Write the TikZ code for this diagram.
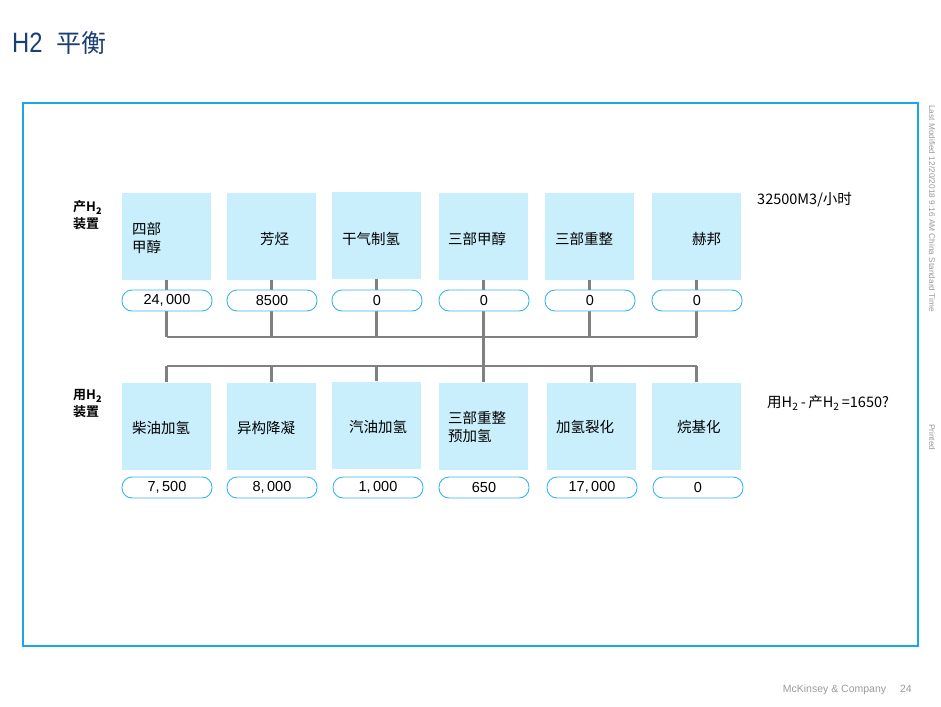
\documentclass[tikz,border=0pt]{standalone}
\usepackage{fontspec}
\setmainfont{Liberation Sans}
\newfontfamily\cjk{Noto Sans CJK SC}
\newfontfamily\cjkb{Noto Sans CJK SC Bold}
\definecolor{frameblue}{HTML}{1AA7E8}
\definecolor{boxfill}{HTML}{C9EFFD}
\definecolor{pillline}{HTML}{35B5EE}
\definecolor{linegray}{HTML}{808080}
\definecolor{titleblue}{HTML}{1C3F73}
\definecolor{notegray}{HTML}{9A9A9A}
\begin{document}
\begin{tikzpicture}[x=1pt,y=-1pt,
  box/.style={draw=none,fill=boxfill,minimum width=89pt,minimum height=87pt,inner sep=0pt},
  pill/.style={draw=pillline,line width=0.9pt,fill=white,rounded corners=10pt,minimum width=90pt,minimum height=21pt,inner sep=0pt,font=\fontsize{14.5}{14}\selectfont},
  boxtext/.style={anchor=west,inner sep=0pt,align=left,font=\cjk\fontsize{14.5}{18}\selectfont},
  side/.style={anchor=west,inner sep=0pt,align=left,font=\cjkb\fontsize{13}{17}\selectfont},
  conn/.style={draw=linegray,line width=2.6pt}]
\useasboundingbox (0,0) rectangle (941,706);
% title
\node[anchor=west,inner sep=0pt,text=titleblue] (title) at (12,43) {\scalebox{0.85}[1]{\fontsize{28}{28}\selectfont H2}\hspace{14pt}{\cjk\fontsize{25}{25}\selectfont 平衡}};
% frame
\draw[frameblue,line width=2pt] (23,103) rectangle (918,646);
% side labels
\node[side] (lblP) at (73,215) {产H\textsubscript{\textbf{2}}\\装置};
\node[side] (lblU) at (73,404) {用H\textsubscript{\textbf{2}}\\装置};
% top boxes
\node[box] (tb1) at (166.5,236.5) {};
\node[box] (tb2) at (271.5,236.5) {};
\node[box] (tb3) at (376.5,235.5) {};
\node[box] (tb4) at (483.5,236.5) {};
\node[box] (tb5) at (589.5,236.5) {};
\node[box] (tb6) at (696.5,236.5) {};
% bottom boxes
\node[box] (bb1) at (166.5,426) {};
\node[box] (bb2) at (271.5,426) {};
\node[box] (bb3) at (376.5,425) {};
\node[box] (bb4) at (483.5,426) {};
\node[box] (bb5) at (591.5,426) {};
\node[box] (bb6) at (696.5,426) {};
% connectors
\coordinate (topbus) at (0,337);
\coordinate (botbus) at (0,366);
\foreach \i in {1,2,3,5,6} {\draw[conn] (tb\i.south) -- (tb\i.south |- topbus);}
\draw[conn] (tb4.south) -- (tb4.south |- bb4.north);
\draw[conn] (tb1.south |- topbus) -- (tb6.south |- topbus);
\draw[conn] (bb1.north |- botbus) -- (bb6.north |- botbus);
\foreach \i in {1,2,3,5,6} {\draw[conn] (bb\i.north) -- (bb\i.north |- botbus);}
% top pills
\node[pill] (tp1) at (167,300.5) {24,\,000};
\node[pill] (tp2) at (272,300.5) {8500};
\node[pill] (tp3) at (377,300.5) {0};
\node[pill] (tp4) at (484,300.5) {0};
\node[pill] (tp5) at (590,300.5) {0};
\node[pill] (tp6) at (697,300.5) {0};
% bottom pills
\node[pill] (bp1) at (167,487.5) {7,\,500};
\node[pill] (bp2) at (272,487.5) {8,\,000};
\node[pill] (bp3) at (378,487.5) {1,\,000};
\node[pill] (bp4) at (484,487.5) {650};
\node[pill] (bp5) at (592,487.5) {17,\,000};
\node[pill] (bp6) at (698,487.5) {0};
% top box texts
\node[boxtext] (t1) at (132,238) {四部\\甲醇};
\node[boxtext] (t2) at (260,239) {芳烃};
\node[boxtext] (t3) at (342,239) {干气制氢};
\node[boxtext] (t4) at (448,239) {三部甲醇};
\node[boxtext] (t5) at (555,239) {三部重整};
\node[boxtext] (t6) at (692,239) {赫邦};
% bottom box texts
\node[boxtext] (u1) at (132,428) {柴油加氢};
\node[boxtext] (u2) at (237,428) {异构降凝};
\node[boxtext] (u3) at (349,427) {汽油加氢};
\node[boxtext] (u4) at (448,427) {三部重整\\预加氢};
\node[boxtext] (u5) at (556,427) {加氢裂化};
\node[boxtext] (u6) at (677,427) {烷基化};
% right notes
\node[anchor=west,inner sep=0pt,font=\cjk\fontsize{14.5}{15}\selectfont] (cap) at (757,200) {32500M3/小时};
\node[anchor=west,inner sep=0pt,font=\cjk\fontsize{14.5}{15}\selectfont] (diff) at (767,403) {用H\textsubscript{2}\,-\,产H\textsubscript{2}\,=1650?};
% margin notes
\node[rotate=-90,anchor=west,inner sep=0pt,text=notegray,font=\fontsize{8.3}{9}\selectfont] (mod) at (932,105) {Last Modified 12/20/2018 9:16 AM China Standard Time};
\node[rotate=-90,anchor=west,inner sep=0pt,text=notegray,font=\fontsize{8.3}{9}\selectfont] (prn) at (932,424) {Printed};
\node[anchor=east,inner sep=0pt,text=notegray,font=\fontsize{10.5}{11}\selectfont] (foot) at (912,690) {McKinsey \& Company\hspace{14pt}24};
\end{tikzpicture}
\end{document}
